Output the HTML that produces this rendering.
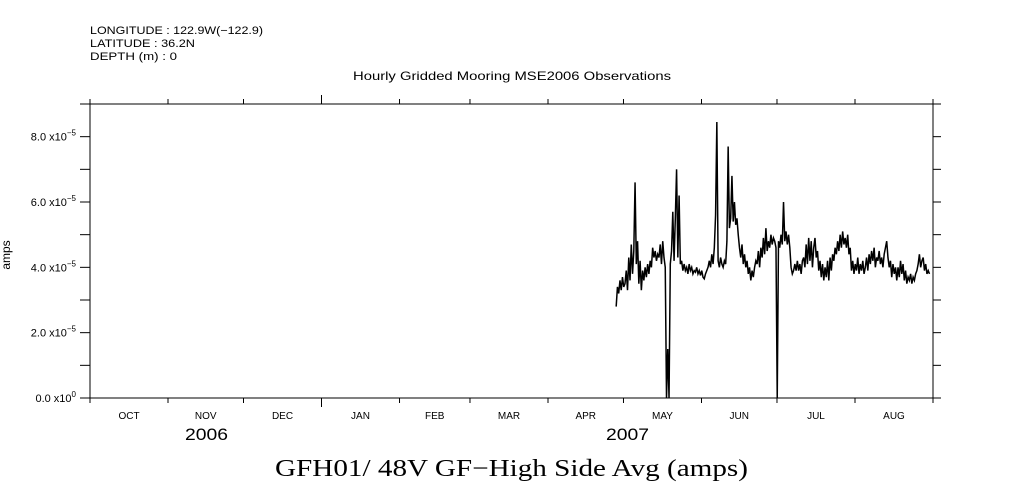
<!DOCTYPE html>
<html><head><meta charset="utf-8"><style>
html,body{margin:0;padding:0;background:#fff;}
svg{display:block;font-family:"Liberation Sans",sans-serif;}
</style></head><body>
<svg id="chart" width="1009" height="504" viewBox="0 0 1009 504" xmlns="http://www.w3.org/2000/svg">
<g font-size="11" fill="#000">
<text x="90" y="34" textLength="173" lengthAdjust="spacingAndGlyphs">LONGITUDE : 122.9W(−122.9)</text>
<text x="90" y="47" textLength="105" lengthAdjust="spacingAndGlyphs">LATITUDE : 36.2N</text>
<text x="90" y="60" textLength="87" lengthAdjust="spacingAndGlyphs">DEPTH (m) : 0</text>
</g>
<text x="353" y="80" textLength="318" lengthAdjust="spacingAndGlyphs" font-size="12">Hourly Gridded Mooring MSE2006 Observations</text>
<text x="275" y="476" textLength="473" lengthAdjust="spacingAndGlyphs" font-size="24" font-family="Liberation Serif, serif">GFH01/ 48V GF−High Side Avg (amps)</text>
<text transform="translate(10,255) rotate(-90)" text-anchor="middle" font-size="12">amps</text>
<g id="axes"></g>
<path id="series" fill="none" stroke="#000" stroke-width="1.5"/>
</svg>
<script>
const monthLabels=["OCT","NOV","DEC","JAN","FEB","MAR","APR","MAY","JUN","JUL","AUG"];
const monthStartDays=[0,31,61,92,123,151,182,212,243,273,304,335];
const yearLabels=["2006","2007"];
const yTickValues=[0,2,4,6,8];
const yTickLabels=["0.0 x10","2.0 x10","4.0 x10","6.0 x10","8.0 x10"];
const yTickExps=["0","−5","−5","−5","−5"];
const startDay=209.1;
const stepDays=0.5;
const values=[
2.8,3.4,3.2,3.6,3.3,3.7,3.4,3.5,
3.9,3.3,4.3,3.6,4.7,3.8,4.5,6.6,
4.1,4.8,3.5,4.2,3.3,3.9,3.6,4.0,
3.7,4.1,3.8,4.2,4.0,4.6,4.3,4.5,
4.2,4.4,4.3,4.7,4.1,4.8,4.3,4.0,
0.0,1.5,0.0,4.1,4.5,5.7,4.2,5.5,
7.0,4.3,6.2,4.1,4.2,3.9,4.1,3.9,
4.0,3.8,4.1,3.9,4.0,3.8,3.9,3.85,
4.0,3.8,3.9,3.75,3.9,3.7,3.65,3.8,
3.9,4.0,4.2,4.0,4.4,4.1,4.6,5.6,
8.45,4.2,4.0,4.3,4.1,4.0,4.2,4.1,
4.8,7.7,5.2,5.5,6.8,5.4,6.0,5.3,
5.5,5.0,4.6,4.3,4.7,4.1,4.4,4.0,
4.2,3.8,4.0,3.6,3.9,3.7,4.0,4.2,
4.1,4.5,4.0,4.6,4.3,4.9,4.4,5.2,
4.5,4.8,4.6,5.0,4.7,4.9,4.8,4.6,
0.0,4.8,4.6,5.0,4.7,6.0,4.8,5.1,
4.7,5.0,4.6,4.0,3.8,3.9,4.1,3.9,
4.2,3.9,4.1,3.8,4.2,4.3,4.0,4.7,
4.1,4.9,4.2,4.8,4.0,4.6,4.9,4.3,
4.5,3.9,4.2,3.7,4.1,3.6,4.0,3.7,
4.2,3.6,4.3,3.9,4.4,4.2,4.6,4.4,
4.8,4.5,5.0,4.6,5.1,4.7,4.9,4.6,
5.0,4.4,4.6,3.9,4.2,3.8,4.1,3.9,
4.3,3.8,4.1,3.9,4.2,3.8,4.0,4.3,
3.9,4.4,4.1,4.5,4.2,4.6,4.0,4.3,
4.2,4.5,4.1,4.3,4.0,4.4,4.6,4.8,
4.3,4.0,4.2,3.7,4.1,3.8,4.0,3.6,
4.0,3.7,4.2,3.8,4.1,3.6,3.9,3.5,
3.7,3.6,3.8,3.5,3.7,3.6,3.8,3.9,
4.1,4.4,4.0,4.2,4.3,3.9,4.1,3.8,
3.9,3.8];

const L=90,R=933,T=104,B=398,totalDays=335,yMax=9;
const xs=d=>L+(d/totalDays)*(R-L);
const ys=v=>B-(v/yMax)*(B-T);
const NS="http://www.w3.org/2000/svg";
const axes=document.getElementById('axes');
function mk(tag,attrs,parent){const e=document.createElementNS(NS,tag);for(const k in attrs)e.setAttribute(k,attrs[k]);(parent||axes).appendChild(e);return e;}
function line(x1,y1,x2,y2,name){const e=mk('line',{x1,y1,x2,y2,stroke:'#000','stroke-width':1});

return e;}
const frame=mk('rect',{x:L,y:T,width:R-L,height:B-T,fill:'none',stroke:'#000','stroke-width':1});


monthStartDays.forEach((d,i)=>{const x=xs(d);const big=(d===92);
line(x,B,x,B+(big?9:5),'x-tick');line(x,T,x,T-(big?9:5),'x-tick-top');});
monthLabels.forEach((m,i)=>{const x=(xs(monthStartDays[i])+xs(monthStartDays[i+1]))/2;
const t=mk('text',{x:x,y:419,'text-anchor':'middle','font-size':10});t.textContent=m;

});
const y1=mk('text',{x:185,y:440,textLength:43,lengthAdjust:'spacingAndGlyphs','font-size':17});y1.textContent=yearLabels[0];


const y2=mk('text',{x:606,y:440,textLength:43,lengthAdjust:'spacingAndGlyphs','font-size':17});y2.textContent=yearLabels[1];


for(let v=0;v<=yMax;v++){const y=ys(v);line(L-10,y,L,y,'y-tick');line(R,y,R+8,y,'y-tick-right');}
yTickValues.forEach((v,i)=>{const y=ys(v);
const t=mk('text',{x:L-14,y:y+4,'text-anchor':'end','font-size':11});


const a=document.createElementNS(NS,'tspan');a.textContent=yTickLabels[i];t.appendChild(a);
const b=document.createElementNS(NS,'tspan');b.setAttribute('dy','-5');b.setAttribute('font-size','8');b.textContent=yTickExps[i];t.appendChild(b);
});
let d='';values.forEach((v,i)=>{const x=xs(startDay+i*stepDays),y=ys(v);d+=(i?'L':'M')+x.toFixed(2)+' '+y.toFixed(2);});
document.getElementById('series').setAttribute('d',d);
</script>
</body></html>
